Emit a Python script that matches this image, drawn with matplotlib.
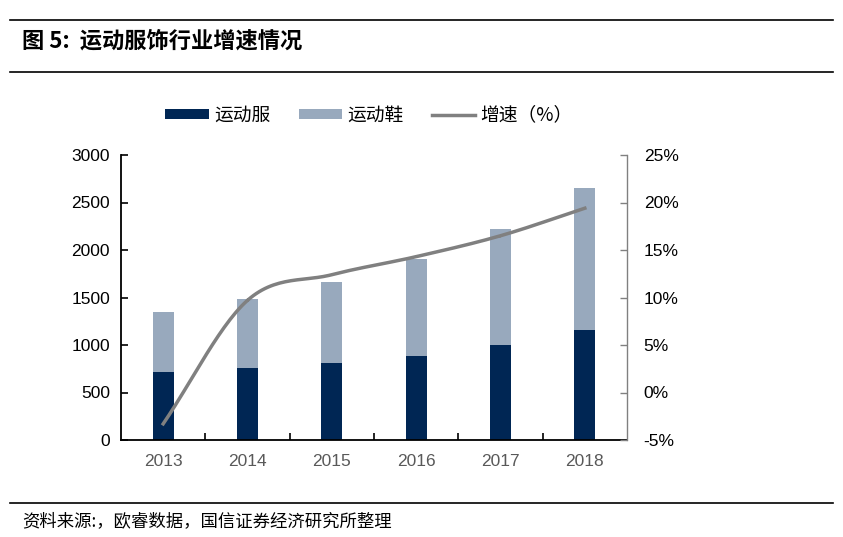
import numpy as np
import matplotlib
matplotlib.use("Agg")
import matplotlib.pyplot as plt
from matplotlib.lines import Line2D

plt.rcParams['font.family'] = ['Liberation Sans', 'Noto Sans CJK SC', 'DejaVu Sans']

years = ['2013', '2014', '2015', '2016', '2017', '2018']
apparel = [720, 760, 810, 885, 1000, 1158]          # 运动服
footwear = [630, 720, 850, 1025, 1220, 1495]        # 运动鞋
growth = [-3.3, 9.7, 12.4, 14.3, 16.5, 19.4]        # 增速 (%)


def smooth(xs, ys, n=30):
    # catmull-rom curve through the points, close to excel "smoothed line"
    xs = np.asarray(xs, float)
    ys = np.asarray(ys, float)
    px = np.concatenate([[2 * xs[0] - xs[1]], xs, [2 * xs[-1] - xs[-2]]])
    py = np.concatenate([[2 * ys[0] - ys[1]], ys, [2 * ys[-1] - ys[-2]]])
    outx, outy = [], []
    t = np.linspace(0, 1, n)
    for i in range(1, len(px) - 2):
        for p, out in ((px, outx), (py, outy)):
            p0, p1, p2, p3 = p[i - 1], p[i], p[i + 1], p[i + 2]
            out.extend(0.5 * (2 * p1 + (-p0 + p2) * t
                              + (2 * p0 - 5 * p1 + 4 * p2 - p3) * t ** 2
                              + (-p0 + 3 * p1 - 3 * p2 + p3) * t ** 3))
    return np.array(outx), np.array(outy)


fig = plt.figure(figsize=(8.43, 5.37), dpi=100)
W, H = 843, 537
cjk = ['Noto Sans CJK SC', 'DejaVu Sans']

# header / footer rules
for y in (20, 72, 503):
    fig.add_artist(Line2D([10 / W, 833 / W], [1 - y / H, 1 - y / H], color='black', lw=1.2))
fig.text(22 / W, 1 - 41 / H, '图 5:  运动服饰行业增速情况', fontsize=16, fontweight='bold',
         family=cjk, va='center')
fig.text(22 / W, 1 - 521 / H, '资料来源:，欧睿数据，国信证券经济研究所整理', fontsize=12.5,
         family=cjk, va='center')

ax = fig.add_axes([121 / W, 1 - 440 / H, (627 - 121) / W, (440 - 155) / H])
x = np.arange(len(years))
dark = '#002654'
light = '#98A9BD'
ax.bar(x, apparel, width=0.25, color=dark, label='运动服', zorder=2)
ax.bar(x, footwear, width=0.25, bottom=apparel, color=light, label='运动鞋', zorder=2)
ax.set_ylim(0, 3000)
ax.set_yticks(range(0, 3001, 500))
ax.set_xlim(-0.5, 5.5)
ax.set_xticks(x)
ax.set_xticklabels(years)
ax.set_xticks(np.arange(0.5, 5.5, 1), minor=True)
ax.tick_params(axis='x', which='major', length=0, pad=10, labelsize=12.5, colors='#595959')
ax.tick_params(axis='x', which='minor', direction='in', length=5, width=1.2)
ax.tick_params(axis='y', direction='in', length=5, width=1.2, labelsize=12.5, pad=8)
for s in ('top', 'right'):
    ax.spines[s].set_visible(False)
ax.spines['left'].set_linewidth(1.3)
ax.spines['bottom'].set_linewidth(1.3)

ax2 = ax.twinx()
sx, sy = smooth(x, growth)
ax2.plot(sx, sy, color='#808080', lw=2.5, label='增速（%）', zorder=3)
ax2.set_ylim(-5, 25)
ax2.set_yticks(range(-5, 26, 5))
ax2.set_yticklabels([f'{v}%' for v in range(-5, 26, 5)])
ax2.tick_params(axis='y', direction='in', length=5, width=1.0, colors='#808080',
                labelcolor='black', labelsize=12.5, pad=12)
for s in ('top', 'left', 'bottom'):
    ax2.spines[s].set_visible(False)
ax2.spines['right'].set_color('#808080')
ax2.spines['right'].set_linewidth(1.0)

h1, l1 = ax.get_legend_handles_labels()
h2, l2 = ax2.get_legend_handles_labels()
fig.legend(h1 + h2, l1 + l2, loc='center', bbox_to_anchor=(369 / W, 1 - 115 / H), ncol=3,
           frameon=False, prop={'family': cjk, 'size': 13.5},
           handlelength=2.3, handleheight=0.45, columnspacing=1.5, handletextpad=0.3)

fig.savefig('out.png', dpi=100)
